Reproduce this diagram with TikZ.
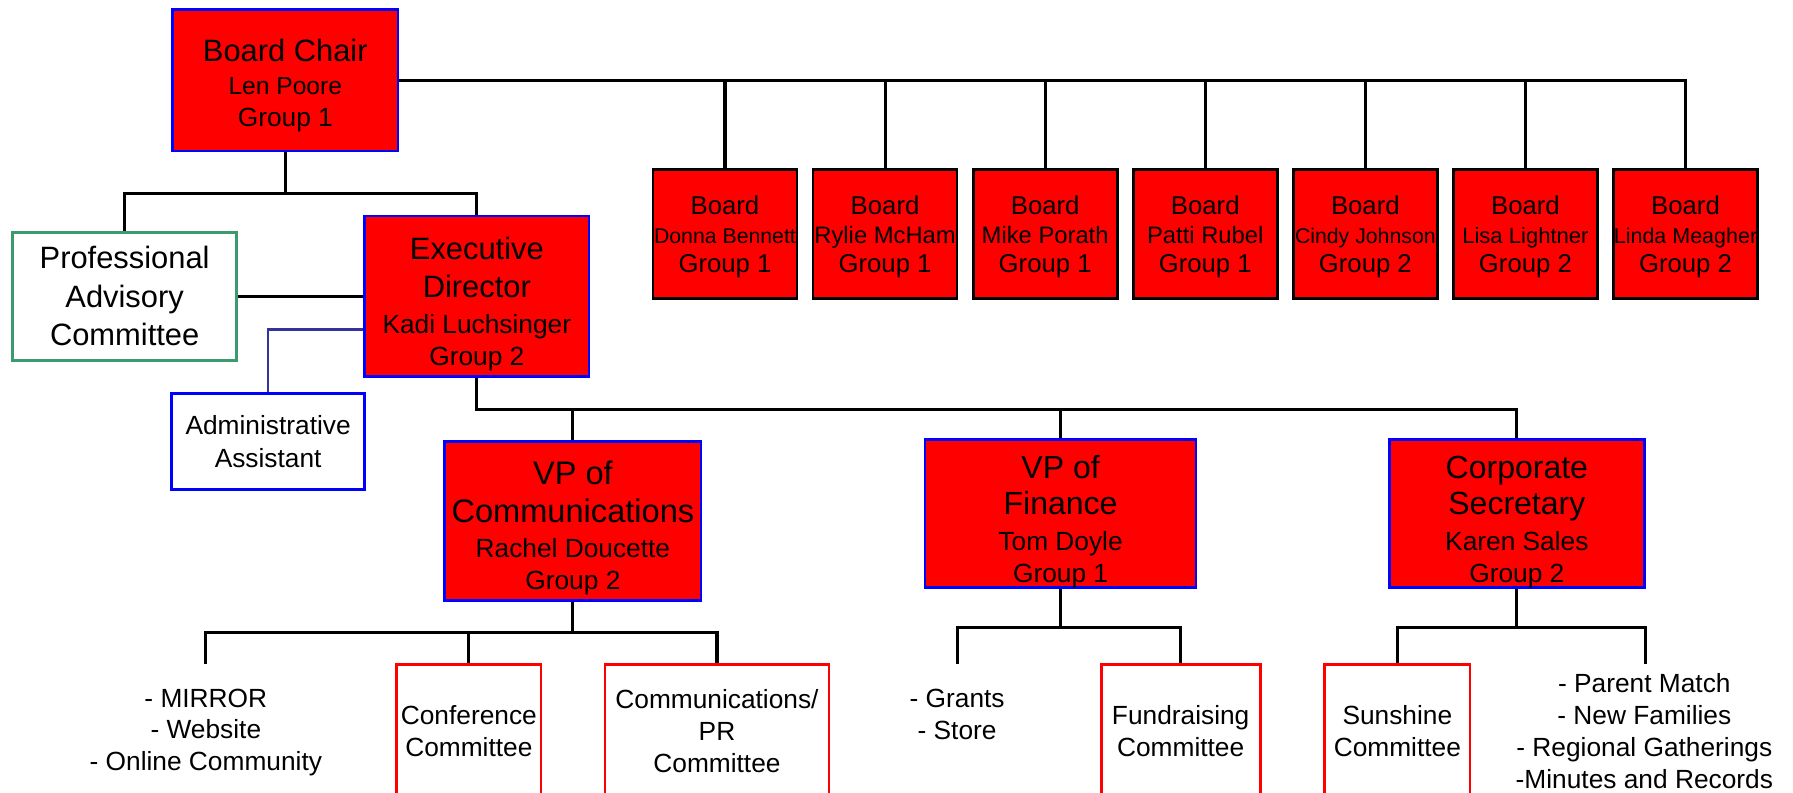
\documentclass[tikz,border=0pt]{standalone}
\usepackage{fontspec}
\setmainfont{Liberation Sans}
\newcommand\fsz[2]{\fontsize{#1}{#2}\selectfont}
\newcommand\topstrut[1]{\rule{0pt}{#1}}
\definecolor{pacgreen}{RGB}{60,155,110}
\definecolor{aaline}{RGB}{51,51,153}
\definecolor{boxred}{RGB}{255,0,0}
\definecolor{boxblue}{RGB}{0,0,255}
\begin{document}
\begin{tikzpicture}[x=1pt,y=-1pt,
  conn/.style={line width=2.7pt, black},
  aaconn/.style={line width=2.1pt, aaline},
  basebox/.style={rectangle, line width=2.4pt, inner sep=0pt, align=center, text=black},
  officer/.style={basebox, draw=boxblue, fill=boxred},
  member/.style={basebox, draw=black, fill=boxred, minimum width=126pt, minimum height=113pt, font=\fsz{22.5}{25}},
  committee/.style={basebox, draw=boxred, fill=white, minimum height=116pt, font=\fsz{23}{28}},
  listtext/.style={inner sep=0pt, align=center, font=\fsz{23}{27.8}}]
\useasboundingbox (0,0) rectangle (1568,693);
\clip (0,0) rectangle (1568,693);

% Board chair
\node[officer, minimum width=197pt, minimum height=124pt, font=\fsz{23}{27.5}] (bc) at (249.5,70)
  {{\fsz{27}{30}\topstrut{28.7pt}Board Chair}\\[1.5pt]{\fsz{21.5}{26}Len Poore}\\Group 1};

% Board members
\node[member] (b1) at (634,204.5) {\topstrut{21.4pt}Board\\{\fsz{18.6}{22}Donna Bennett}\\Group 1};
\node[member] (b2) at (774,204.5) {\topstrut{21.4pt}Board\\{\fsz{20.8}{22}Rylie McHam}\\Group 1};
\node[member] (b3) at (914,204.5) {\topstrut{21.4pt}Board\\{\fsz{20.8}{22}Mike Porath}\\Group 1};
\node[member] (b4) at (1054,204.5) {\topstrut{21.4pt}Board\\{\fsz{20.8}{22}Patti Rubel}\\Group 1};
\node[member] (b5) at (1194,204.5) {\topstrut{21.4pt}Board\\{\fsz{18.6}{22}Cindy Johnson}\\Group 2};
\node[member] (b6) at (1334,204.5) {\topstrut{21.4pt}Board\\{\fsz{19.3}{22}Lisa Lightner}\\Group 2};
\node[member] (b7) at (1474,204.5) {\topstrut{21.4pt}Board\\{\fsz{18.8}{22}Linda Meagher}\\Group 2};

% Second level
\node[basebox, draw=pacgreen, fill=white, minimum width=196pt, minimum height=112pt, font=\fsz{27}{33.5}] (pac) at (109,259)
  {Professional\\Advisory\\Committee};
\node[officer, minimum width=196pt, minimum height=140pt, font=\fsz{23}{28}] (ed) at (417,259)
  {{\fsz{27}{30}\topstrut{33.3pt}Executive}\\[5.5pt]{\fsz{27}{30}Director}\\[3pt]Kadi Luchsinger\\Group 2};
\node[basebox, draw=boxblue, fill=white, minimum width=169pt, minimum height=84pt, font=\fsz{23}{29}] (aa) at (234.5,386)
  {Administrative\\Assistant};

% Officers
\node[officer, minimum width=224pt, minimum height=139pt, font=\fsz{23}{28}] (vpc) at (501,455.5)
  {{\fsz{28.5}{30}\topstrut{32.8pt}VP of}\\[5pt]{\fsz{28.5}{30}Communications}\\[3pt]Rachel Doucette\\Group 2};
\node[officer, minimum width=237pt, minimum height=126pt, font=\fsz{23}{27.5}] (vpf) at (927.5,449)
  {{\fsz{28}{30}\topstrut{34.4pt}VP of}\\[4pt]{\fsz{28}{30}Finance}\\[4pt]Tom Doyle\\Group 1};
\node[officer, minimum width=223pt, minimum height=126pt, font=\fsz{23}{27.5}] (cs) at (1326.5,449)
  {{\fsz{28}{30}\topstrut{34.5pt}Corporate}\\[4pt]{\fsz{28}{30}Secretary}\\[4pt]Karen Sales\\Group 2};

% Committees and lists
\node[committee, minimum width=126pt] (conf) at (410,639) {Conference\\Committee};
\node[committee, minimum width=196pt] (cpr) at (627,639) {Communications/\\PR\\Committee};
\node[committee, minimum width=139pt] (fund) at (1032.5,639) {Fundraising\\Committee};
\node[committee, minimum width=127pt] (sun) at (1222,639) {Sunshine\\Committee};
\node[listtext] (mirror) at (180,640.5) {- MIRROR\\- Website\\- Online Community};
\node[listtext] (grants) at (837,624.5) {- Grants\\- Store};
\node[listtext] (parent) at (1438,639.5) {- Parent Match\\- New Families\\- Regional Gatherings\\-Minutes and Records};
\coordinate (mirrortop) at (180,581);
\coordinate (grantstop) at (837,581);
\coordinate (parenttop) at (1439,581);

% Connectors
\foreach \b in {b1,b2,b3,b4,b5,b6,b7}
  \draw[conn] (bc.east) -| (\b.north);
\draw[conn] (bc.south) -- ++(0,36) -| (pac.north);
\draw[conn] (bc.south) -- ++(0,36) -| (ed.north);
\draw[conn] (pac.east) -- (ed.west);
\draw[aaconn] ([yshift=-29pt]ed.west) -| (aa.north);
\draw[conn] (ed.south) -- ++(0,28) -| (vpc.north);
\draw[conn] (ed.south) -- ++(0,28) -| (vpf.north);
\draw[conn] (ed.south) -- ++(0,28) -| (cs.north);
\draw[conn] (vpc.south) -- ++(0,27) -| (mirrortop);
\draw[conn] (vpc.south) -- ++(0,27) -| (conf.north);
\draw[conn] (vpc.south) -- ++(0,27) -| (cpr.north);
\draw[conn] (vpf.south) -- ++(0,34) -| (grantstop);
\draw[conn] (vpf.south) -- ++(0,34) -| (fund.north);
\draw[conn] (cs.south) -- ++(0,34) -| (sun.north);
\draw[conn] (cs.south) -- ++(0,34) -| (parenttop);
\end{tikzpicture}
\end{document}
